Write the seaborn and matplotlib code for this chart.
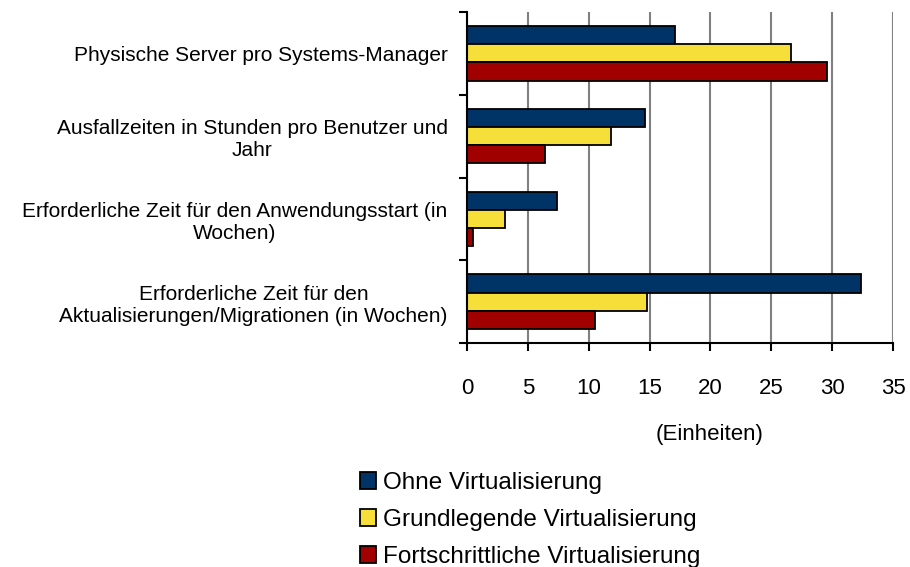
import pandas as pd
import numpy as np
import matplotlib.pyplot as plt
import seaborn as sns
from matplotlib.ticker import FixedLocator

sns.set_style("white")
plt.rcParams['font.family'] = ['Liberation Sans', 'DejaVu Sans']
plt.rcParams['text.color'] = 'black'
plt.rcParams['xtick.color'] = 'black'
plt.rcParams['ytick.color'] = 'black'
plt.rcParams['axes.labelcolor'] = 'black'

# Daten
categories = [
    'Physische Server pro Systems-Manager',
    'Ausfallzeiten in Stunden pro Benutzer und\nJahr',
    'Erforderliche Zeit für den Anwendungsstart (in\nWochen)',
    'Erforderliche Zeit für den\nAktualisierungen/Migrationen (in Wochen)',
]
series = ['Ohne Virtualisierung', 'Grundlegende Virtualisierung', 'Fortschrittliche Virtualisierung']
ohne = [17.1, 14.65, 7.4, 32.4]
grundlegend = [26.6, 11.8, 3.1, 14.8]
fortschrittlich = [29.6, 6.4, 0.5, 10.5]
colors = ['#003366', '#F7DF3A', '#A00000']

df = pd.DataFrame({
    'Kategorie': categories * 3,
    'Serie': [s for s in series for _ in categories],
    'Wert': ohne + grundlegend + fortschrittlich,
})

fig = plt.figure(figsize=(9.1, 5.67), dpi=100)
ax = fig.add_axes([467 / 910, 1 - 343 / 567, 426 / 910, 331 / 567])

sns.barplot(data=df, y='Kategorie', x='Wert', hue='Serie', hue_order=series,
            order=categories, palette=colors, orient='h', width=0.66,
            edgecolor='black', linewidth=1.3, saturation=1, ax=ax, legend=True)

ax.set_xlim(0, 35)
ax.set_ylim(3.5, -0.5)
ax.set_xticks(np.arange(0, 36, 5))
ax.grid(axis='x', color='#808080', linewidth=1.5)
ax.set_axisbelow(True)

for s in ['top', 'right']:
    ax.spines[s].set_visible(False)
for s in ['left', 'bottom']:
    ax.spines[s].set_color('black')
    ax.spines[s].set_linewidth(1.5)

ax.tick_params(axis='x', direction='out', length=6, width=1.5, pad=19, labelsize=16, bottom=True)
ax.tick_params(axis='y', which='major', length=0, pad=14, labelsize=15)
ax.yaxis.set_minor_locator(FixedLocator(np.arange(-0.5, 4, 1)))
ax.tick_params(axis='y', which='minor', direction='out', length=6, width=1.5, left=True)
for lbl in ax.get_yticklabels():
    lbl.set_multialignment('center')
    lbl.set_linespacing(1.2)

ax.set_ylabel('')
ax.set_xlabel('(Einheiten)', fontsize=16)
ax.xaxis.set_label_coords((710 - 467) / 426, -0.245)

handles, labels = ax.get_legend_handles_labels()
ax.get_legend().remove()
fig.legend(handles, labels, loc='upper left', bbox_to_anchor=(360 / 910, 1 - 472 / 567),
           frameon=False, fontsize=17.5, handlelength=0.65, handleheight=0.65,
           handletextpad=0.3, labelspacing=0.62, borderpad=0, borderaxespad=0)

plt.savefig('out.png', dpi=100)
